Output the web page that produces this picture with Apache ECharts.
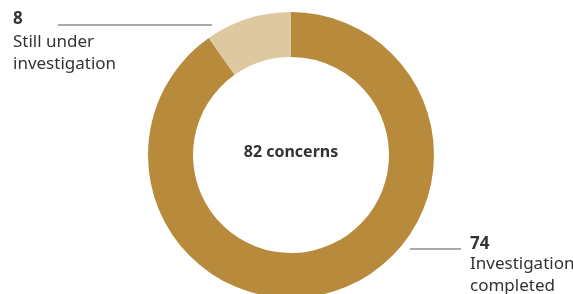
<!DOCTYPE html>
<html>
<head>
<meta charset="utf-8">
<script src="https://cdn.jsdelivr.net/npm/echarts@6/dist/echarts.min.js"></script>
<style>
  html, body { margin: 0; padding: 0; background: #fff; }
  #main { width: 573px; height: 294px; }
</style>
</head>
<body>
<div id="main"></div>
<script>
var categories = ['Investigation completed', 'Still under investigation'];
var values = [74, 8];
var labelLines = [['Investigation', 'completed'], ['Still under', 'investigation']];
var colors = ['#B88B3C', '#DEC89F'];
var total = values[0] + values[1];

var chart = echarts.init(document.getElementById('main'), null, { renderer: 'canvas' });

var font = '"Noto Sans", sans-serif';

// y is the vertical middle of the text line
function textEl(x, y, str, bold) {
  return {
    type: 'text',
    x: x,
    y: y,
    style: {
      text: str,
      fill: '#333',
      font: (bold ? 'bold ' : '') + '17px ' + font,
      verticalAlign: 'middle'
    }
  };
}

var option = {
  animation: false,
  color: colors,
  series: [
    {
      type: 'pie',
      center: [291, 155],
      radius: [98, 143],
      startAngle: 90,
      clockwise: true,
      label: { show: false },
      labelLine: { show: false },
      silent: true,
      data: categories.map(function (c, i) {
        return { name: c, value: values[i] };
      })
    }
  ],
  graphic: [
    // centre total
    {
      type: 'text',
      x: 291,
      y: 152,
      style: {
        text: total + ' concerns',
        fill: '#333',
        font: 'bold 16px ' + font,
        align: 'center',
        verticalAlign: 'middle'
      }
    },
    // top-left label
    { type: 'line', shape: { x1: 58, y1: 25, x2: 212, y2: 25 }, style: { stroke: '#555', lineWidth: 1 } },
    textEl(13, 19.5, String(values[1]), true),
    textEl(13, 42, labelLines[1][0]),
    textEl(13, 64, labelLines[1][1]),
    // bottom-right label
    { type: 'line', shape: { x1: 410, y1: 249, x2: 461, y2: 249 }, style: { stroke: '#555', lineWidth: 1 } },
    textEl(470, 244, String(values[0]), true),
    textEl(470, 264.5, labelLines[0][0]),
    textEl(470, 286.5, labelLines[0][1])
  ]
};

chart.setOption(option);
</script>
</body>
</html>
